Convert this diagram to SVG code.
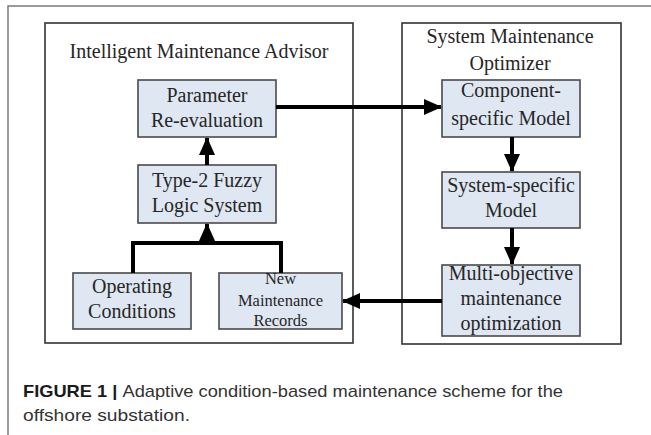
<svg xmlns="http://www.w3.org/2000/svg" width="651" height="435" viewBox="0 0 651 435">
<style>
.frame{fill:none;stroke:#7a7a7a;stroke-width:1.5}
.cont{fill:#ffffff;stroke:#333;stroke-width:1.6}
.node{fill:#dfe7f2;stroke:#4a4a4a;stroke-width:1.6}
.t{font-family:"Liberation Serif","Times New Roman",serif;font-size:20px;fill:#262626;text-anchor:middle}
.ts{font-size:16.5px}
.c{fill:none;stroke:#000;stroke-width:4}
.cap{font-family:"Liberation Sans",Arial,sans-serif;font-size:17px;fill:#333}
</style>
<defs>
<marker id="ah" markerUnits="userSpaceOnUse" markerWidth="18" markerHeight="16" viewBox="0 0 18 16" refX="17" refY="8" orient="auto">
<polygon points="0,0 18,8 0,16" fill="#000"/>
</marker>
</defs>
<rect width="651" height="435" fill="#fff"/>
<path class="frame" d="M8,435 V6 H651"/>

<g id="advisor">
<rect class="cont" x="45" y="23" width="308" height="320"/>
<text class="t" x="199" y="58">Intelligent Maintenance Advisor</text>
</g>
<g id="optimizer">
<rect class="cont" x="402" y="23" width="219" height="321"/>
<text class="t" x="510" y="43">System Maintenance</text>
<text class="t" x="510" y="70">Optimizer</text>
</g>

<g id="param">
<rect class="node" x="138" y="80" width="138" height="57"/>
<text class="t" x="207" y="102">Parameter</text>
<text class="t" x="207" y="127">Re-evaluation</text>
</g>
<g id="fuzzy">
<rect class="node" x="138" y="165" width="138" height="58"/>
<text class="t" x="207" y="187">Type-2 Fuzzy</text>
<text class="t" x="207" y="212">Logic System</text>
</g>
<g id="operating">
<rect class="node" x="73" y="273" width="118" height="56"/>
<text class="t" x="132" y="293">Operating</text>
<text class="t" x="132" y="318">Conditions</text>
</g>
<g id="records">
<rect class="node" x="219" y="273" width="123" height="56"/>
<text class="t ts" x="280.5" y="284">New</text>
<text class="t ts" x="280.5" y="306">Maintenance</text>
<text class="t ts" x="280.5" y="326">Records</text>
</g>
<g id="component">
<rect class="node" x="442" y="80" width="138" height="57"/>
<text class="t" x="511" y="97">Component-</text>
<text class="t" x="511" y="125">specific Model</text>
</g>
<g id="system">
<rect class="node" x="442" y="172" width="138" height="56"/>
<text class="t" x="511" y="192">System-specific</text>
<text class="t" x="511" y="217">Model</text>
</g>
<g id="multi">
<rect class="node" x="442" y="265" width="138" height="71"/>
<text class="t" x="511" y="280">Multi-objective</text>
<text class="t" x="511" y="305">maintenance</text>
<text class="t" x="511" y="330">optimization</text>
</g>

<g id="connectors">
<path class="c" d="M207,165 V138" marker-end="url(#ah)"/>
<path class="c" d="M133,273 V243 H281 V273"/>
<path class="c" d="M207,243 V224" marker-end="url(#ah)"/>
<path class="c" d="M276,107 H441" marker-end="url(#ah)"/>
<path class="c" d="M512,137 V171" marker-end="url(#ah)"/>
<path class="c" d="M512,228 V264" marker-end="url(#ah)"/>
<path class="c" d="M442,301 H343" marker-end="url(#ah)"/>
</g>

<g id="caption">
<text class="cap" x="23" y="397" textLength="540" lengthAdjust="spacingAndGlyphs"><tspan font-weight="bold" fill="#1a1a1a">FIGURE 1 | </tspan>Adaptive condition-based maintenance scheme for the</text>
<text class="cap" x="23" y="421" textLength="167" lengthAdjust="spacingAndGlyphs">offshore substation.</text>
</g>
</svg>
